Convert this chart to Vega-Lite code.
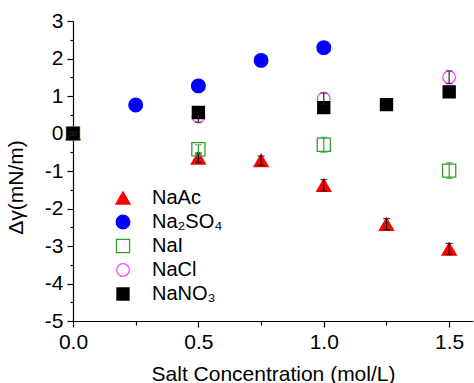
{
  "$schema": "https://vega.github.io/schema/vega-lite/v6.json",
  "autosize": {"type": "none"},
  "width": 400,
  "height": 300,
  "padding": {"left": 73, "top": 21, "right": 1, "bottom": 62},
  "background": "white",
  "config": {
    "view": {"stroke": null},
    "font": "Liberation Sans",
    "axis": {"grid": false, "domainColor": "black", "tickColor": "black", "labelColor": "black", "titleColor": "black", "labelFont": "Liberation Sans", "titleFont": "Liberation Sans", "labelFontSize": 21, "titleFontSize": 21, "titleFontWeight": "normal", "domainWidth": 1.2, "tickWidth": 1.2, "labelFlush": false, "labelOverlap": false},
    "legend": {"orient": "none", "legendX": 40, "legendY": 167, "labelFontSize": 20, "labelFont": "Liberation Sans", "labelColor": "black", "rowPadding": 4, "padding": 0, "labelOffset": 19, "symbolStrokeWidth": 1.3}
  },
  "data": {
    "values": [
      {"salt": "NaAc", "c": 0, "y": 0, "lo": -0.05, "hi": 0.05},
      {"salt": "NaAc", "c": 0.5, "y": -0.65, "lo": -0.78, "hi": -0.52},
      {"salt": "NaAc", "c": 0.75, "y": -0.72, "lo": -0.85, "hi": -0.6},
      {"salt": "NaAc", "c": 1.0, "y": -1.38, "lo": -1.53, "hi": -1.23},
      {"salt": "NaAc", "c": 1.25, "y": -2.42, "lo": -2.57, "hi": -2.27},
      {"salt": "NaAc", "c": 1.5, "y": -3.08, "lo": -3.23, "hi": -2.93},
      {"salt": "Na₂SO₄", "c": 0.25, "y": 0.76, "lo": 0.71, "hi": 0.81},
      {"salt": "Na₂SO₄", "c": 0.5, "y": 1.27, "lo": 1.22, "hi": 1.32},
      {"salt": "Na₂SO₄", "c": 0.75, "y": 1.95, "lo": 1.9, "hi": 2.0},
      {"salt": "Na₂SO₄", "c": 1.0, "y": 2.29, "lo": 2.24, "hi": 2.34},
      {"salt": "NaI", "c": 0, "y": 0, "lo": -0.05, "hi": 0.05},
      {"salt": "NaI", "c": 0.5, "y": -0.42, "lo": -0.55, "hi": -0.3},
      {"salt": "NaI", "c": 1.0, "y": -0.3, "lo": -0.5, "hi": -0.1},
      {"salt": "NaI", "c": 1.5, "y": -0.99, "lo": -1.2, "hi": -0.78},
      {"salt": "NaCl", "c": 0, "y": 0, "lo": -0.05, "hi": 0.05},
      {"salt": "NaCl", "c": 0.5, "y": 0.45, "lo": 0.3, "hi": 0.6},
      {"salt": "NaCl", "c": 1.0, "y": 0.93, "lo": 0.78, "hi": 1.08},
      {"salt": "NaCl", "c": 1.5, "y": 1.5, "lo": 1.33, "hi": 1.67},
      {"salt": "NaNO₃", "c": 0, "y": 0, "lo": -0.05, "hi": 0.05},
      {"salt": "NaNO₃", "c": 0.5, "y": 0.56, "lo": 0.5, "hi": 0.62},
      {"salt": "NaNO₃", "c": 1.0, "y": 0.69, "lo": 0.63, "hi": 0.75},
      {"salt": "NaNO₃", "c": 1.25, "y": 0.77, "lo": 0.71, "hi": 0.83},
      {"salt": "NaNO₃", "c": 1.5, "y": 1.11, "lo": 1.05, "hi": 1.17}
    ]
  },
  "resolve": {"axis": {"x": "independent", "y": "independent"}},
  "layer": [
    {
      "mark": {"type": "point", "opacity": 0},
      "encoding": {
        "x": {"field": "c", "type": "quantitative", "scale": {"domain": [0, 1.595], "nice": false, "zero": false}, "axis": {"orient": "bottom", "values": [0.25, 0.75, 1.25], "labels": false, "tickSize": 4, "domain": false, "title": null}},
        "y": {"field": "y", "type": "quantitative", "scale": {"domain": [-5, 3], "nice": false}, "axis": {"orient": "left", "values": [-4.5, -3.5, -2.5, -1.5, -0.5, 0.5, 1.5, 2.5], "labels": false, "tickSize": 3, "domain": false, "title": null}}
      }
    },
    {
      "mark": {"type": "point", "opacity": 1, "strokeWidth": 1.3},
      "encoding": {
        "x": {"field": "c", "type": "quantitative", "axis": {"orient": "bottom", "values": [0, 0.5, 1, 1.5], "format": ".1f", "tickSize": 6, "labelPadding": 4, "title": "Salt Concentration (mol/L)", "titlePadding": 11}},
        "y": {"field": "y", "type": "quantitative", "axis": {"orient": "left", "values": [-5, -4, -3, -2, -1, 0, 1, 2, 3], "labelExpr": "replace(datum.label, '−', '-')", "tickSize": 6, "labelPadding": 4, "title": "Δγ(mN/m)", "titleAngle": 270, "titleX": -57, "titleY": 166, "titleAlign": "center", "titleBaseline": "middle"}},
        "shape": {"field": "salt", "type": "nominal", "scale": {"domain": ["NaAc", "Na₂SO₄", "NaI", "NaCl", "NaNO₃"], "range": ["triangle-up", "circle", "square", "circle", "square"]}, "legend": {"title": null}},
        "fill": {"field": "salt", "type": "nominal", "scale": {"domain": ["NaAc", "Na₂SO₄", "NaI", "NaCl", "NaNO₃"], "range": ["#ff0000", "#0000ff", "transparent", "transparent", "#000000"]}, "legend": {"title": null}},
        "stroke": {"field": "salt", "type": "nominal", "scale": {"domain": ["NaAc", "Na₂SO₄", "NaI", "NaCl", "NaNO₃"], "range": ["#ff0000", "#0000ff", "#33a02c", "#ff44ff", "#000000"]}, "legend": {"title": null}},
        "size": {"field": "salt", "type": "nominal", "scale": {"domain": ["NaAc", "Na₂SO₄", "NaI", "NaCl", "NaNO₃"], "range": [200, 145, 115, 125, 120]}, "legend": {"title": null}}
      }
    },
    {
      "mark": {"type": "errorbar", "ticks": {"size": 7}, "thickness": 1.2},
      "encoding": {
        "x": {"field": "c", "type": "quantitative", "axis": null},
        "y": {"field": "lo", "type": "quantitative", "axis": null},
        "y2": {"field": "hi"},
        "color": {"field": "salt", "type": "nominal", "scale": {"domain": ["NaAc", "Na₂SO₄", "NaI", "NaCl", "NaNO₃"], "range": ["#000000", "#0000ff", "#33a02c", "#222222", "#000000"]}, "legend": null}
      }
    }
  ]
}
